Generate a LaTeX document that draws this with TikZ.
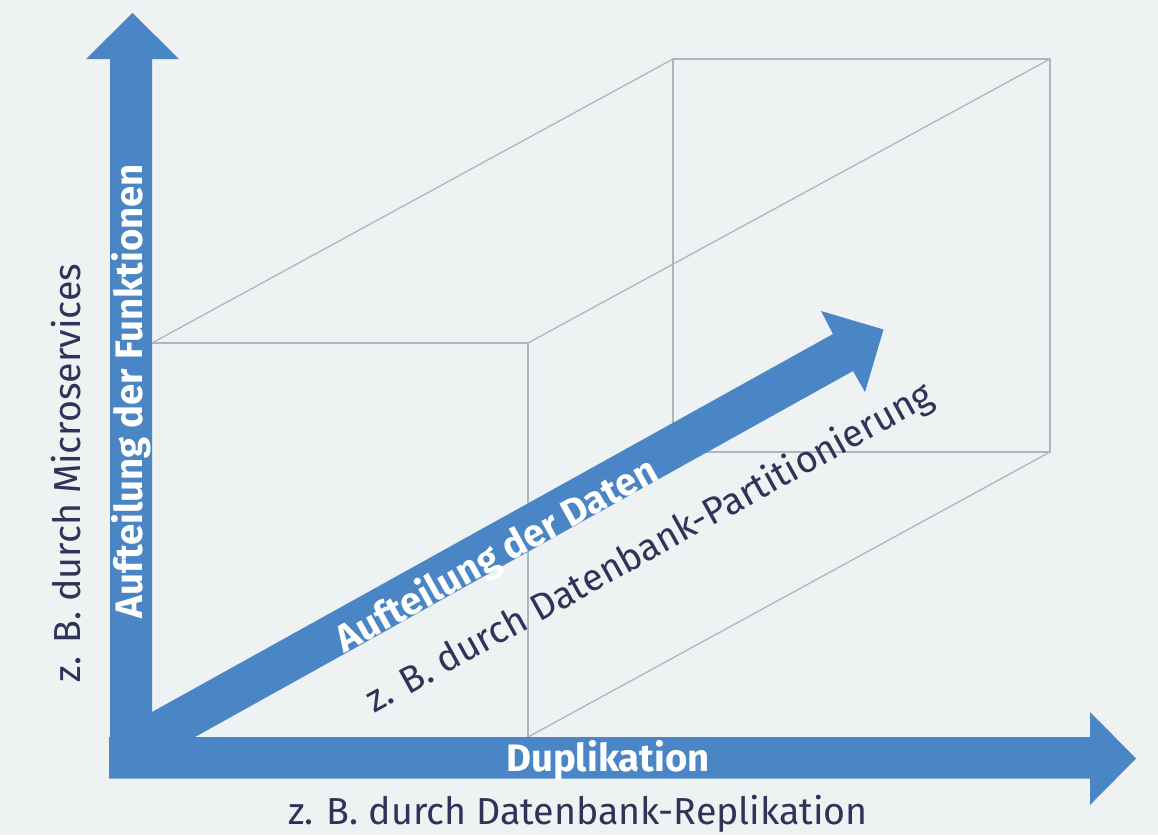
\documentclass[tikz,border=0pt]{standalone}
\usepackage{fontspec}
\setmainfont{Fira Sans}
\definecolor{bgc}{HTML}{EEF2F3}
\definecolor{bluec}{HTML}{4A86C5}
\definecolor{linec}{HTML}{A9B8BD}
\definecolor{textc}{HTML}{2E3358}
\tikzset{
  boxline/.style={draw=linec,line width=1.3pt},
  bigarrow/.style={fill=bluec,draw=none},
  boldlabel/.style={text=white,font=\fontsize{38.3}{38}\selectfont\bfseries,inner sep=0pt},
  sublabel/.style={text=textc,font=\fontsize{37.6}{38}\selectfont,inner sep=0pt}
}
\begin{document}
\begin{tikzpicture}[x=1pt,y=-1pt]
\useasboundingbox (0,0) rectangle (1158,835);
\fill[bgc] (0,0) rectangle (1158,835);
\coordinate (fa) at (152,343);
\coordinate (fb) at (528,343);
\coordinate (fc) at (528,737);
\coordinate (ba) at (673,59);
\coordinate (bb) at (1050,59);
\coordinate (bc) at (1050,452);
\coordinate (bd) at (673,452);
\draw[boxline] (fa) -- (fb) -- (fc);
\draw[boxline] (ba) -- (bb) -- (bc) -- (bd) -- cycle;
\draw[boxline] (fa) -- (ba);
\draw[boxline] (fb) -- (bb);
\draw[boxline] (fc) -- (bc);
\fill[bigarrow] (152,712) -- (833,334) -- (821,311) -- (883.5,329.5) -- (865,392) -- (853,371) -- (195,737) -- (152,760) -- cycle;
\fill[bigarrow] (110,760) -- (110,59) -- (86,59) -- (132.5,13) -- (179,59) -- (152,59) -- (152,760) -- cycle;
\fill[bigarrow] (109,737) -- (1090,737) -- (1090,712) -- (1136,758.5) -- (1090,805) -- (1090,778.5) -- (109,778.5) -- cycle;
\node[boldlabel,rotate=90] (vt) at (131,391) {Aufteilung der Funktionen};
\node[sublabel,rotate=90] (vs) at (66,473) {z. B. durch Microservices};
\node[boldlabel] (ht) at (608,760) {Duplikation};
\node[sublabel] (hs) at (578,814) {z. B. durch Datenbank-Replikation};
\node[boldlabel,rotate=29] (dt) at (497,556) {Aufteilung der Daten};
\node[sublabel,rotate=29] (ds) at (650,549) {z. B. durch Datenbank-Partitionierung};
\end{tikzpicture}
\end{document}
